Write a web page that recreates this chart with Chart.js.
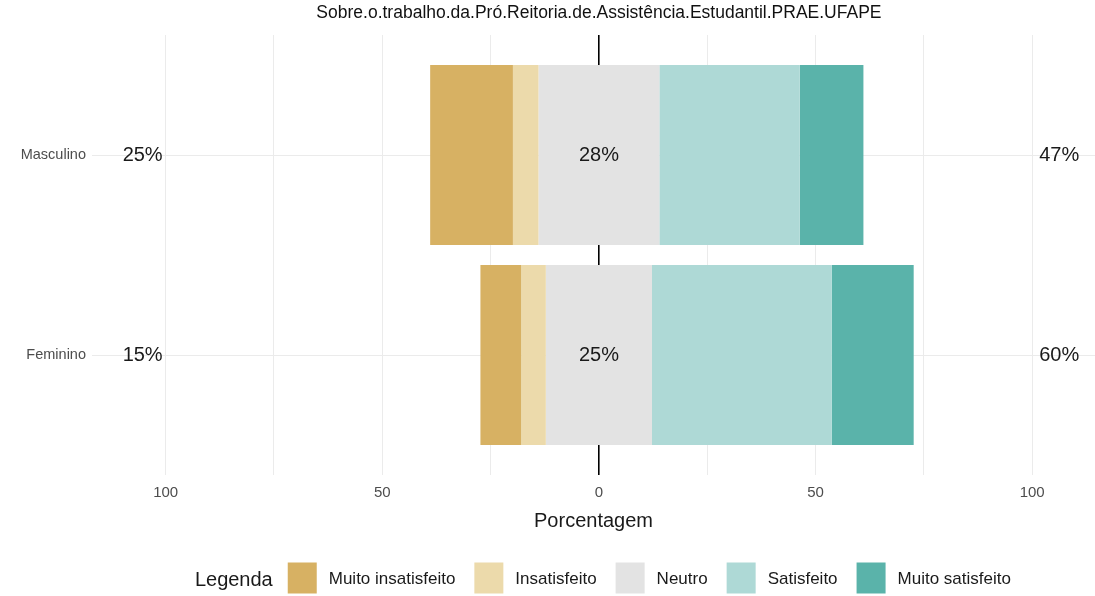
<!DOCTYPE html>
<html>
<head>
<meta charset="utf-8">
<script src="https://cdn.jsdelivr.net/npm/chart.js@4/dist/chart.umd.min.js"></script>
<style>
  body { margin: 0; background: #fff; }
  canvas { display: block; }
</style>
</head>
<body>
<canvas id="likertChart" width="1095" height="596"></canvas>
<script>
const chartTitle = 'Sobre.o.trabalho.da.Pró.Reitoria.de.Assistência.Estudantil.PRAE.UFAPE';
const categories = ['Masculino', 'Feminino'];
const levels = ['Muito insatisfeito', 'Insatisfeito', 'Neutro', 'Satisfeito', 'Muito satisfeito'];
const levelColors = ['#D7B163', '#ECDAAB', '#E3E3E3', '#AED9D6', '#5AB3AA'];

// percentages per category
const muitoInsatisfeito = [19.1, 9.4];
const insatisfeito = [5.9, 5.7];
const neutro = [27.9, 24.5];
const satisfeito = [32.4, 41.5];
const muitoSatisfeito = [14.7, 18.9];

const lowLabels = ['25%', '15%'];
const neutralLabels = ['28%', '25%'];
const highLabels = ['47%', '60%'];

const xTicks = [-100, -75, -50, -25, 0, 25, 50, 75, 100];

const FONT = '"Liberation Sans", Arial, sans-serif';

// neutral centred on 0, negatives to the left, positives to the right
function ranges(i) {
  const half = neutro[i] / 2;
  const a = -(half + insatisfeito[i]);
  const b = half + satisfeito[i];
  return [
    [a - muitoInsatisfeito[i], a],
    [a, -half],
    [-half, half],
    [half, b],
    [b, b + muitoSatisfeito[i]]
  ];
}

const datasets = levels.map((lvl, k) => ({
  label: lvl,
  data: categories.map((c, i) => ({ x: ranges(i)[k], y: i + 1 })),
  backgroundColor: levelColors[k],
  borderWidth: 0,
  grouped: false,
  barPercentage: 0.9,
  categoryPercentage: 1.0
}));

const likertText = {
  id: 'likertText',
  afterDatasetsDraw(chart) {
    const { ctx, scales: { x, y } } = chart;
    const x0 = x.getPixelForValue(0);
    ctx.save();
    ctx.textBaseline = 'middle';

    // title
    ctx.fillStyle = '#111';
    ctx.font = '17.5px ' + FONT;
    ctx.textAlign = 'center';
    ctx.fillText(chartTitle, x0, 13);

    // percent labels
    ctx.font = '20px ' + FONT;
    ctx.fillStyle = '#1a1a1a';
    categories.forEach((c, i) => {
      const py = y.getPixelForValue(i + 1);
      ctx.textAlign = 'right';
      ctx.fillText(lowLabels[i], x.getPixelForValue(-100) - 3, py);
      ctx.textAlign = 'center';
      ctx.fillText(neutralLabels[i], x0, py);
      ctx.textAlign = 'left';
      ctx.fillText(highLabels[i], x.getPixelForValue(100) + 7, py);
    });

    // legend
    const legY = 578, boxW = 29, boxH = 31;
    ctx.font = '20px ' + FONT;
    const titleW = ctx.measureText('Legenda').width;
    ctx.font = '17px ' + FONT;
    const labelW = levels.map(l => ctx.measureText(l).width);
    let total = titleW + 15;
    labelW.forEach((w, k) => { total += boxW + 12 + w + (k < levels.length - 1 ? 19 : 0); });
    let px = x0 + 4 - total / 2;
    ctx.textAlign = 'left';
    ctx.fillStyle = '#1a1a1a';
    ctx.font = '20px ' + FONT;
    ctx.fillText('Legenda', px, legY + 2);
    px += titleW + 15;
    ctx.font = '17px ' + FONT;
    levels.forEach((l, k) => {
      ctx.fillStyle = levelColors[k];
      ctx.fillRect(px, legY - boxH / 2, boxW, boxH);
      px += boxW + 12;
      ctx.fillStyle = '#1a1a1a';
      ctx.fillText(l, px, legY + 1);
      px += labelW[k] + 19;
    });
    ctx.restore();
  }
};

new Chart(document.getElementById('likertChart').getContext('2d'), {
  type: 'bar',
  data: { datasets },
  plugins: [likertText],
  options: {
    indexAxis: 'y',
    responsive: false,
    animation: false,
    layout: { padding: { top: 35, right: 0, left: 0, bottom: 61 } },
    plugins: {
      legend: { display: false },
      title: { display: false },
      tooltip: { enabled: false }
    },
    scales: {
      x: {
        type: 'linear',
        min: -117,
        max: 114.5,
        offset: false,
        afterBuildTicks: s => { s.ticks = xTicks.map(v => ({ value: v })); },
        afterFit: s => { s.height = 60; },
        border: { display: false },
        grid: {
          offset: false,
          drawTicks: false,
          color: c => (c.tick && c.tick.value === 0) ? '#000' : '#EBEBEB',
          lineWidth: c => (c.tick && c.tick.value === 0) ? 1.6 : 1
        },
        ticks: {
          padding: 9,
          autoSkip: false,
          maxRotation: 0,
          color: '#4D4D4D',
          font: { family: FONT, size: 15 },
          callback: v => (v % 50 === 0 ? String(Math.abs(v)) : '')
        },
        title: {
          display: true,
          text: 'Porcentagem',
          color: '#1a1a1a',
          font: { family: FONT, size: 20 },
          padding: { top: 0, bottom: 2 }
        }
      },
      y: {
        type: 'linear',
        reverse: true,
        min: 0.4,
        max: 2.6,
        offset: false,
        afterBuildTicks: s => { s.ticks = categories.map((c, i) => ({ value: i + 1 })); },
        afterFit: s => { s.width = 92; },
        border: { display: false },
        grid: { offset: false, drawTicks: false, color: '#EBEBEB', lineWidth: 1 },
        ticks: {
          padding: 6,
          autoSkip: false,
          color: '#4D4D4D',
          font: { family: FONT, size: 14.5 },
          callback: v => categories[v - 1] || ''
        }
      }
    }
  }
});
</script>
</body>
</html>
